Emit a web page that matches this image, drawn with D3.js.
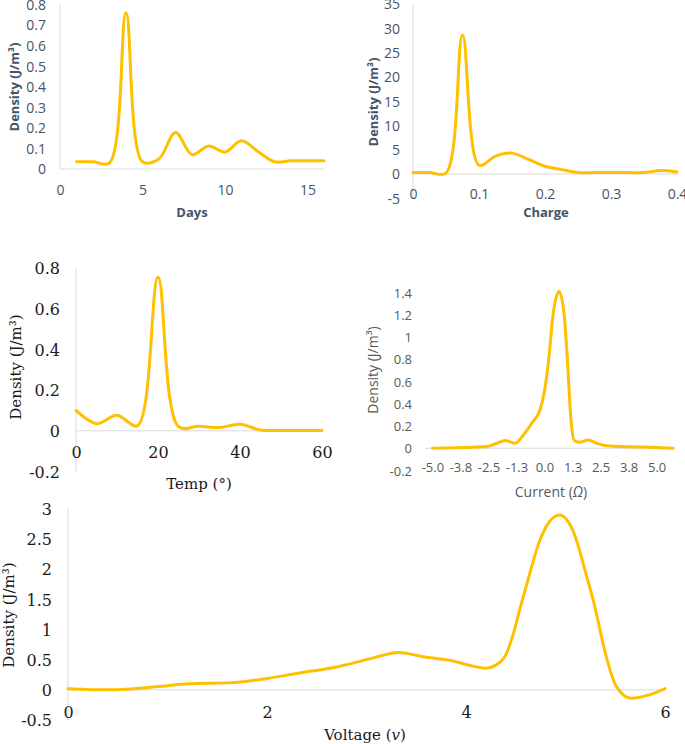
<!DOCTYPE html>
<html><head><meta charset="utf-8">
<script src="https://cdn.jsdelivr.net/npm/d3@7"></script>
<style>body{margin:0;background:#fff}</style>
</head><body>
<svg id="c" width="685" height="744"></svg>
<script>
// ---------- DATA ----------
const daysX = [1,2,3,4,5,6,7,8,9,10,11,12,13,14,15,16];
const daysDensity = [0.035,0.035,0.03,0.76,0.035,0.05,0.178,0.07,0.112,0.083,0.137,0.085,0.035,0.04,0.04,0.04];
const daysTicksX = [0,5,10,15];
const daysTicksY = [0,0.1,0.2,0.3,0.4,0.5,0.6,0.7,0.8];

const chargeX = [0,0.025,0.05,0.075,0.1,0.125,0.15,0.175,0.2,0.225,0.25,0.275,0.3,0.325,0.35,0.375,0.4];
const chargeDensity = [0.3,0.3,0.2,28.6,1.8,3.7,4.3,3.0,1.6,0.9,0.3,0.3,0.3,0.3,0.3,0.7,0.4];
const chargeTicksX = [0,0.1,0.2,0.3,0.4];
const chargeTicksY = [-5,0,5,10,15,20,25,30,35];

const tempX = [0,5,10,15,20,25,30,35,40,45,50,55,60];
const tempDensity = [0.1,0.035,0.076,0.025,0.755,0.02,0.022,0.016,0.032,0.004,0.002,0.001,0.001];
const tempTicksX = [0,20,40,60];
const tempTicksY = [-0.2,0,0.2,0.4,0.6,0.8];

const currentX = [-5,-3.17,-2.58,-2.13,-1.76,-1.31,-0.94,-0.57,-0.2,-0.02,0.17,0.39,0.65,0.87,1.03,1.18,1.33,1.55,1.95,2.4,2.92,3.81,5.0,5.74];
const currentDensity = [0,0.01,0.015,0.045,0.07,0.045,0.12,0.225,0.345,0.495,0.765,1.215,1.41,1.215,0.765,0.255,0.07,0.055,0.075,0.04,0.02,0.013,0.008,0];
const currentTicksX = [-5,-3.75,-2.5,-1.25,0,1.25,2.5,3.75,5];
const currentTicksY = [-0.2,0,0.2,0.4,0.6,0.8,1,1.2,1.4];

const voltageX = [0,0.42,0.75,1.0,1.2,1.66,2.0,2.33,2.7,3.07,3.32,3.57,3.87,4.05,4.2,4.3,4.4,4.47,4.54,4.61,4.74,4.81,4.94,5.08,5.21,5.28,5.41,5.51,5.66,5.85,6.0];
const voltageDensity = [0.02,0.0,0.03,0.07,0.1,0.12,0.19,0.28,0.38,0.53,0.62,0.55,0.48,0.4,0.36,0.41,0.58,0.9,1.33,1.75,2.47,2.72,2.9,2.62,1.9,1.48,0.55,0.06,-0.14,-0.08,0.02];
const voltageTicksX = [0,2,4,6];
const voltageTicksY = [-0.5,0,0.5,1,1.5,2,2.5,3];

// ---------- DRAW ----------
const svg = d3.select('#c');
const LINE = '#FFC000', AX = '#D9D9D9';
const SANS = "'Open Sans', sans-serif", SERIF = "'DejaVu Serif', serif";

function panel(o) {
  const x = d3.scaleLinear().domain(o.xd).range([o.left, o.right]);
  const y = d3.scaleLinear().domain(o.yd).range([o.bottom, o.top]);
  const g = svg.append('g');
  if (o.vline) g.append('line').attr('x1', o.left).attr('x2', o.left)
      .attr('y1', y(o.yd[1])).attr('y2', y(o.yd[0])).attr('stroke', AX).attr('stroke-width', 1);
  g.append('line').attr('x1', o.left).attr('x2', o.right)
      .attr('y1', y(0)).attr('y2', y(0)).attr('stroke', AX).attr('stroke-width', 1);

  const ya = g.append('g').attr('transform', `translate(${o.left},0)`)
    .call(d3.axisLeft(y).tickValues(o.yt).tickSize(0).tickPadding(o.ypad).tickFormat(o.yf));
  ya.select('.domain').remove();
  ya.selectAll('text').attr('dy', '0.35em').attr('font-family', o.font).attr('font-size', o.tick)
    .attr('fill', o.color);

  const xa = g.append('g').attr('transform', `translate(0,${o.xLabY})`)
    .call(d3.axisBottom(x).tickValues(o.xt).tickSize(0).tickPadding(0).tickFormat(o.xf));
  xa.select('.domain').remove();
  xa.selectAll('text').attr('y', 0).attr('dy', '0.35em').attr('font-family', o.font)
    .attr('font-size', o.tick).attr('fill', o.color);

  g.append('path').datum(d3.zip(o.xs, o.ys))
    .attr('d', d3.line().x(d => x(d[0])).y(d => y(d[1])).curve(o.curve))
    .attr('fill', 'none').attr('stroke', LINE).attr('stroke-width', 3)
    .attr('stroke-linejoin', 'round').attr('stroke-linecap', 'round');

  const xt = g.append('text').attr('x', o.xTitle[0]).attr('y', o.xTitle[1]).attr('dy', '0.35em')
    .attr('text-anchor', 'middle').attr('font-family', o.font).attr('font-size', o.title)
    .attr('font-weight', o.bold ? 700 : 400).attr('fill', o.color);
  xt.append('tspan').text(o.xLabel[0]);
  if (o.xLabel[1]) { xt.append('tspan').attr('font-style', 'italic').text(o.xLabel[1]); xt.append('tspan').text(o.xLabel[2]); }

  g.append('text').attr('transform', `translate(${o.yTitle[0]},${o.yTitle[1]}) rotate(-90)`)
    .attr('dy', '0.35em').attr('text-anchor', 'middle').attr('font-family', o.font)
    .attr('font-size', o.title).attr('font-weight', o.bold ? 700 : 400).attr('fill', o.color)
    .text('Density (J/m³)');
}

const plain = d => String(d);
const oneDec = d => d.toFixed(1);
const cr = d3.curveCatmullRom.alpha(0.5), mono = d3.curveMonotoneX;

panel({xs: daysX, ys: daysDensity, xd: [0,16], yd: [0,0.8], left: 60, right: 324, top: 4.5, bottom: 169,
  vline: true, xt: daysTicksX, yt: daysTicksY, xf: plain, yf: plain, ypad: 14, xLabY: 190, curve: cr,
  xTitle: [192, 212], xLabel: ['Days'], yTitle: [14, 87], font: SANS, tick: 14, title: 13, bold: true, color: '#44546A'});

panel({xs: chargeX, ys: chargeDensity, xd: [0,0.4], yd: [-5,35], left: 413, right: 677, top: 4, bottom: 198.3,
  vline: true, xt: chargeTicksX, yt: chargeTicksY, xf: plain, yf: plain, ypad: 13, xLabY: 194, curve: cr,
  xTitle: [546, 212], xLabel: ['Charge'], yTitle: [373, 102], font: SANS, tick: 14, title: 13, bold: true, color: '#44546A'});

panel({xs: tempX, ys: tempDensity, xd: [0,60], yd: [-0.2,0.8], left: 76, right: 322, top: 268, bottom: 471.5,
  vline: true, xt: tempTicksX, yt: tempTicksY, xf: plain, yf: plain, ypad: 16, xLabY: 452, curve: cr,
  xTitle: [199, 484], xLabel: ['Temp (°)'], yTitle: [16, 367], font: SERIF, tick: 16, title: 15, bold: false, color: '#1a1a1a'});

panel({xs: currentX, ys: currentDensity, xd: [-5.33,5.82], yd: [-0.2,1.4], left: 425, right: 675, top: 292.7, bottom: 470.5,
  vline: false, xt: currentTicksX, yt: currentTicksY, xf: oneDec, yf: plain, ypad: 13, xLabY: 467, curve: mono,
  xTitle: [551, 492], xLabel: ['Current (', 'Ω', ')'], yTitle: [373, 370], font: SANS, tick: 13, title: 14, bold: false, color: '#595959'});

panel({xs: voltageX, ys: voltageDensity, xd: [0,6], yd: [-0.5,3], left: 68, right: 665, top: 509, bottom: 720,
  vline: true, xt: voltageTicksX, yt: voltageTicksY, xf: plain, yf: plain, ypad: 16, xLabY: 712, curve: mono,
  xTitle: [365, 735], xLabel: ['Voltage (', 'v', ')'], yTitle: [9, 615], font: SERIF, tick: 16, title: 15, bold: false, color: '#1a1a1a'});
</script>
</body></html>
